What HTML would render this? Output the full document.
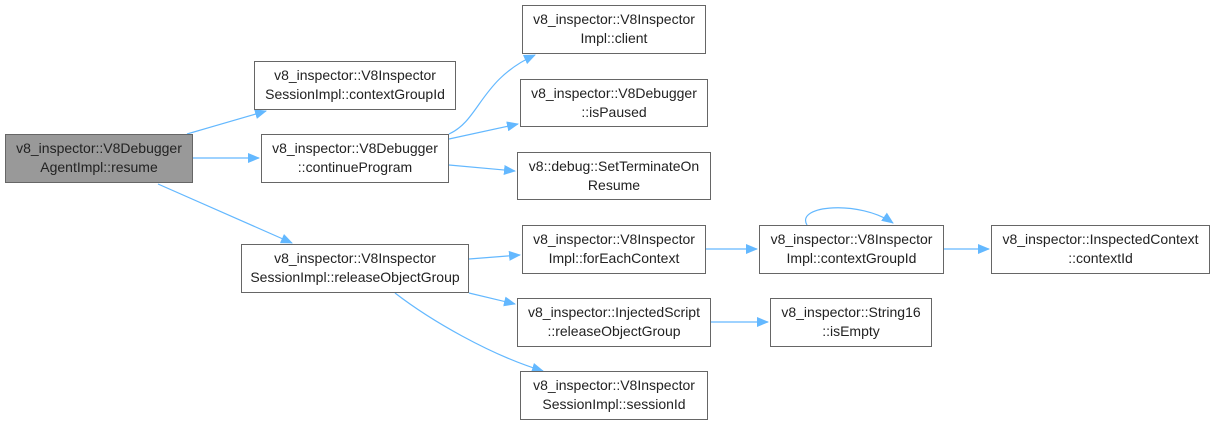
<!DOCTYPE html>
<html><head><meta charset="utf-8"><style>
body{margin:0;background:#fff;width:1215px;height:426px;overflow:hidden}
.n{position:absolute;box-sizing:border-box;border:1px solid #666;background:#fff;font:14px "Liberation Sans","DejaVu Sans",sans-serif;color:#222;text-align:center;line-height:19px;padding-top:4px;white-space:nowrap}
svg{position:absolute;left:0;top:0}
</style></head><body>
<svg width="1215" height="426">
<defs><marker id="a" markerWidth="12" markerHeight="10" refX="11" refY="5" orient="auto" markerUnits="userSpaceOnUse"><path d="M0,0L12,5L0,10z" fill="#63b8ff"/></marker></defs>
<g stroke="#63b8ff" stroke-width="1.2" fill="none" marker-end="url(#a)">
<path d="M187,134L266,111"/>
<path d="M193,158L259,158"/>
<path d="M158,184L292,243"/>
<path d="M449,134C480,120 480,80 535,55"/>
<path d="M449,139L518,124"/>
<path d="M449,165L515,171"/>
<path d="M469,259L520,255"/>
<path d="M469,293L515,304"/>
<path d="M395,293C430,320 490,355 543,371"/>
<path d="M706,249L757,249"/>
<path d="M944,249L989,249"/>
<path d="M711,322L768,322"/>
<path d="M807,225C795,205 860,200 893,223"/>
</g></svg>
<div class="n" style="left:5px;top:134px;width:188px;height:49px;background:#999;border-color:#666">v8_inspector::V8Debugger<br>AgentImpl::resume</div>
<div class="n" style="left:254px;top:61px;width:202px;height:49px">v8_inspector::V8Inspector<br>SessionImpl::contextGroupId</div>
<div class="n" style="left:261px;top:134px;width:188px;height:49px">v8_inspector::V8Debugger<br>::continueProgram</div>
<div class="n" style="left:241px;top:244px;width:228px;height:49px">v8_inspector::V8Inspector<br>SessionImpl::releaseObjectGroup</div>
<div class="n" style="left:522px;top:5px;width:184px;height:49px">v8_inspector::V8Inspector<br>Impl::client</div>
<div class="n" style="left:520px;top:79px;width:188px;height:48px">v8_inspector::V8Debugger<br>::isPaused</div>
<div class="n" style="left:517px;top:152px;width:194px;height:48px">v8::debug::SetTerminateOn<br>Resume</div>
<div class="n" style="left:522px;top:225px;width:184px;height:49px">v8_inspector::V8Inspector<br>Impl::forEachContext</div>
<div class="n" style="left:759px;top:225px;width:185px;height:49px">v8_inspector::V8Inspector<br>Impl::contextGroupId</div>
<div class="n" style="left:991px;top:225px;width:219px;height:49px">v8_inspector::InspectedContext<br>::contextId</div>
<div class="n" style="left:517px;top:298px;width:194px;height:49px">v8_inspector::InjectedScript<br>::releaseObjectGroup</div>
<div class="n" style="left:770px;top:298px;width:162px;height:49px">v8_inspector::String16<br>::isEmpty</div>
<div class="n" style="left:520px;top:371px;width:188px;height:49px">v8_inspector::V8Inspector<br>SessionImpl::sessionId</div>
</body></html>
